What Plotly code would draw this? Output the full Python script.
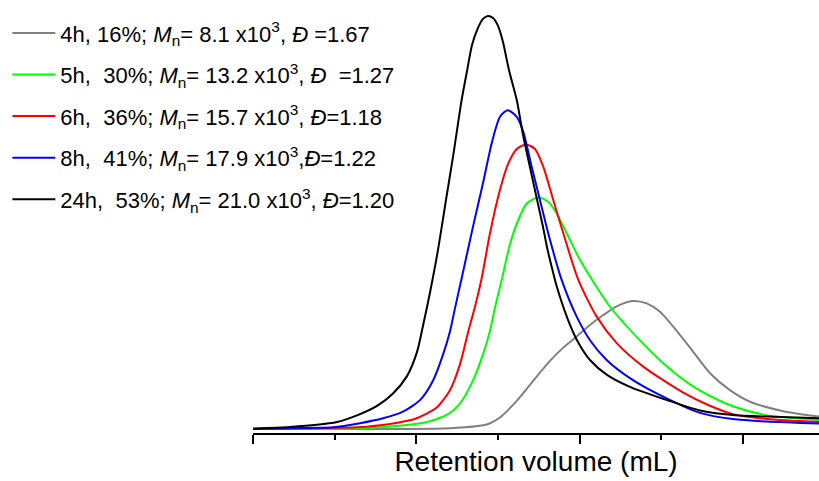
import plotly.graph_objects as go

# ---- data (retention volume in mL, normalized RI intensity) ----
labels = [
    "4h, 16%; <i>M</i><sub>n</sub>= 8.1 x10<sup>3</sup>, <i>Đ</i> =1.67",
    "5h,  30%; <i>M</i><sub>n</sub>= 13.2 x10<sup>3</sup>, <i>Đ</i>  =1.27",
    "6h,  36%; <i>M</i><sub>n</sub>= 15.7 x10<sup>3</sup>, <i>Đ</i>=1.18",
    "8h,  41%; <i>M</i><sub>n</sub>= 17.9 x10<sup>3</sup>,<i>Đ</i>=1.22",
    "24h,  53%; <i>M</i><sub>n</sub>= 21.0 x10<sup>3</sup>, <i>Đ</i>=1.20",
]
colors = ["#808080", "#00ff00", "#ff0000", "#0000ff", "#000000"]

x_4h = [10.000, 12.411, 12.819, 12.901, 13.023, 13.228, 13.472, 13.635, 13.798, 13.962,
        14.125, 14.288, 14.452, 14.647, 14.819, 14.982, 15.144, 15.349, 15.594, 15.838,
        16.083, 16.491, 16.928]
y_4h = [0.000, 0.002, 0.009, 0.014, 0.028, 0.068, 0.127, 0.165, 0.197, 0.224,
        0.252, 0.276, 0.297, 0.310, 0.304, 0.284, 0.248, 0.197, 0.135, 0.094,
        0.066, 0.043, 0.030]

x_5h = [10.000, 11.187, 11.677, 12.084, 12.371, 12.534, 12.696, 12.819, 12.901, 12.962,
        13.044, 13.146, 13.247, 13.350, 13.492, 13.614, 13.717, 13.840, 13.982, 14.125,
        14.370, 14.696, 15.022, 15.349, 15.675, 15.875, 16.291, 16.928]
y_5h = [0.000, 0.001, 0.006, 0.015, 0.034, 0.062, 0.119, 0.183, 0.238, 0.294,
        0.361, 0.448, 0.506, 0.546, 0.561, 0.550, 0.522, 0.474, 0.417, 0.369,
        0.296, 0.223, 0.159, 0.108, 0.072, 0.055, 0.033, 0.022]

x_6h = [10.000, 10.780, 11.269, 11.677, 12.004, 12.248, 12.411, 12.534, 12.635, 12.717,
        12.799, 12.901, 13.023, 13.125, 13.228, 13.340, 13.452, 13.553, 13.676, 13.798,
        13.982, 14.207, 14.452, 14.777, 15.267, 15.571, 15.875, 16.291, 16.928]
y_6h = [0.000, 0.002, 0.004, 0.012, 0.026, 0.052, 0.094, 0.157, 0.236, 0.296,
        0.365, 0.474, 0.579, 0.643, 0.678, 0.689, 0.678, 0.635, 0.554, 0.474,
        0.361, 0.272, 0.208, 0.151, 0.088, 0.058, 0.036, 0.024, 0.017]

x_8h = [10.000, 10.453, 10.979, 11.310, 11.591, 11.836, 12.044, 12.203, 12.326, 12.411,
        12.472, 12.554, 12.693, 12.815, 12.922, 13.023, 13.117, 13.228, 13.305, 13.411,
        13.513, 13.635, 13.778, 13.962, 14.125, 14.329, 14.614, 14.941, 15.471, 15.875,
        16.291, 16.928]
y_8h = [0.000, 0.002, 0.004, 0.014, 0.026, 0.042, 0.070, 0.117, 0.180, 0.236,
        0.292, 0.365, 0.490, 0.595, 0.692, 0.756, 0.772, 0.756, 0.722, 0.635,
        0.554, 0.458, 0.361, 0.272, 0.215, 0.167, 0.123, 0.086, 0.039, 0.024,
        0.018, 0.013]

x_24h = [10.000, 10.453, 10.783, 11.028, 11.273, 11.518, 11.714, 11.885, 12.007, 12.081,
         12.166, 12.264, 12.362, 12.448, 12.554, 12.619, 12.681, 12.754, 12.815, 12.876,
         12.938, 12.999, 13.060, 13.133, 13.228, 13.305, 13.390, 13.476, 13.550, 13.599,
         13.672, 13.721, 13.843, 13.966, 14.125, 14.333, 14.614, 15.067, 15.471, 15.875,
         16.291, 16.928]
y_24h = [0.001, 0.005, 0.010, 0.017, 0.033, 0.056, 0.086, 0.128, 0.186, 0.250,
         0.330, 0.433, 0.554, 0.659, 0.797, 0.866, 0.930, 0.971, 0.993, 1.000,
         0.995, 0.976, 0.937, 0.869, 0.797, 0.712, 0.634, 0.556, 0.489, 0.440,
         0.380, 0.343, 0.271, 0.215, 0.167, 0.131, 0.102, 0.070, 0.045, 0.034,
         0.030, 0.026]

xs = [x_4h, x_5h, x_6h, x_8h, x_24h]
ys = [y_4h, y_5h, y_6h, y_8h, y_24h]

x_range = [10.0, 16.928]
y_range = [-0.0097, 1.0387]

FONT = "Liberation Sans, Arial, sans-serif"

fig = go.Figure()
for i, (lab, col, xv, yv) in enumerate(zip(labels, colors, xs, ys)):
    fig.add_trace(go.Scatter(
        x=xv, y=yv, mode="lines", name=lab, legendgroup=str(i),
        line=dict(color=col, width=2, shape="spline", smoothing=0.7),
    ))

fig.update_layout(
    width=819, height=481,
    margin=dict(l=0, r=0, t=0, b=48),
    paper_bgcolor="white", plot_bgcolor="white",
    font=dict(family=FONT, color="black"),
    showlegend=True,
    legend=dict(
        x=0.009, y=0.972, xanchor="left", yanchor="top",
        bgcolor="rgba(0,0,0,0)", borderwidth=0,
        font=dict(family=FONT, size=22, color="black"),
        itemwidth=43, tracegroupgap=10,
    ),
    xaxis=dict(
        domain=[253 / 819, 1.0],
        range=x_range, showgrid=False, zeroline=False,
        showline=True, linecolor="black", linewidth=2,
        ticks="outside", ticklen=9, tickwidth=2, tickcolor="black",
        tick0=10, dtick=2, showticklabels=False,
        minor=dict(ticks="outside", ticklen=5, tickwidth=2, tickcolor="black", dtick=1, tick0=10),
        title=dict(text="Retention volume (mL)", font=dict(family=FONT, size=28, color="black"), standoff=8),
    ),
    yaxis=dict(
        range=y_range, visible=False, showgrid=False, zeroline=False,
    ),
)

fig.write_html("out.html")
